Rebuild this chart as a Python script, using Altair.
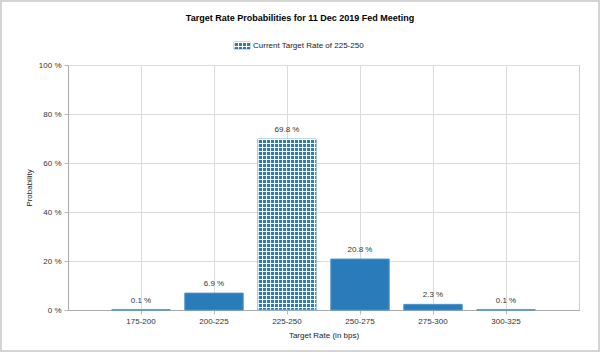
import altair as alt
import pandas as pd

categories = ["175-200", "200-225", "225-250", "250-275", "275-300", "300-325"]
probabilities = [0.1, 6.9, 69.8, 20.8, 2.3, 0.1]
current_rate = "225-250"
title_text = "Target Rate Probabilities for 11 Dec 2019 Fed Meeting"
legend_text = "Current Target Rate of 225-250"

W, H = 511, 245
BLUE = "#2a7bb9"
FONT = "Liberation Sans"

df = pd.DataFrame({"rate": categories, "prob": probabilities})
df["frac"] = df["prob"] / 100.0
df["is_current"] = df["rate"] == current_rate


def stripes(length_px, period, white, dark, light, horizontal):
    stops = []
    pos = 0.0
    while pos < length_px - 1e-9:
        a = pos / length_px
        b = min((pos + white) / length_px, 1.0)
        c = min((pos + period) / length_px, 1.0)
        stops += [(light, a), (light, b), (dark, b), (dark, c)]
        pos += period
    return alt.LinearGradient(
        gradient="linear",
        stops=[alt.GradientStop(color=col, offset=round(o, 5)) for col, o in stops],
        x1=0, y1=0, x2=1 if horizontal else 0, y2=0 if horizontal else 1,
    )


step = W / (6 - 0.2 + 1.2)
bw = step * 0.8
cur_h = H * probabilities[categories.index(current_rate)] / 100.0
grad_v = stripes(bw, 4, 1.2, BLUE, "#ffffff", True)
grad_h = stripes(cur_h, 4, 1.2, "rgba(255,255,255,0)", "#ffffff", False)
sw_w, sw_h = 16, 7
sw_v = stripes(sw_w, 4, 1.2, BLUE, "#ffffff", True)
sw_h_grad = stripes(sw_h, 4, 1.2, "rgba(255,255,255,0)", "#ffffff", False)

x_enc = alt.X(
    "rate:N", sort=categories,
    scale=alt.Scale(paddingInner=0.2, paddingOuter=0.6),
    axis=alt.Axis(title="Target Rate (in bps)", labelAngle=0, grid=True,
                  bandPosition=0.5, tickSize=4, labelPadding=3, titlePadding=6),
)
y_enc = alt.Y(
    "frac:Q", scale=alt.Scale(domain=[0, 1], nice=False),
    axis=alt.Axis(title="Probability", values=[0, 0.2, 0.4, 0.6, 0.8, 1.0],
                  labelExpr="format(datum.value*100, '.0f') + ' %'",
                  tickSize=4, labelPadding=3, titlePadding=5),
)

base = alt.Chart(df).encode(x=x_enc, y=y_enc)

solid = base.transform_filter("!datum.is_current").mark_bar(
    fill=BLUE, stroke="#4f94ca", strokeWidth=1)
pat1 = base.transform_filter("datum.is_current").mark_bar(
    fill=grad_v, stroke="#7fb0d8", strokeWidth=1)
pat2 = base.transform_filter("datum.is_current").mark_bar(fill=grad_h)

labels = base.transform_calculate(
    label="format(datum.prob, '.1f') + ' %'"
).mark_text(baseline="bottom", dy=-5, fontSize=8, font=FONT, color="#333333").encode(
    text="label:N")

one = alt.Chart(pd.DataFrame({"t": [legend_text], "title": [title_text]}))
sw1 = one.mark_rect(fill=sw_v, stroke="#2a6a9e", strokeWidth=0.5).encode(
    x=alt.value(166), x2=alt.value(166 + sw_w), y=alt.value(-23), y2=alt.value(-23 + sw_h))
sw2 = one.mark_rect(fill=sw_h_grad).encode(
    x=alt.value(166), x2=alt.value(166 + sw_w), y=alt.value(-23), y2=alt.value(-23 + sw_h))
leg_txt = one.mark_text(align="left", baseline="middle", fontSize=8, font=FONT,
                        color="#222222").encode(
    x=alt.value(185), y=alt.value(-19.5), text="t:N")
title_mark = one.mark_text(align="center", baseline="middle", fontSize=9, font=FONT,
                           fontWeight="bold", color="#000000").encode(
    x=alt.value(232), y=alt.value(-47.5), text="title:N")
border = one.mark_rect(fill=None, stroke="#d4d4d4", strokeWidth=2).encode(
    x=alt.value(-67), x2=alt.value(531), y=alt.value(-64), y2=alt.value(286))

chart = alt.layer(solid, pat1, pat2, labels, sw1, sw2, leg_txt, title_mark, border).properties(
    width=W, height=H,
    autosize=alt.AutoSizeParams(type="none"),
    padding={"left": 68, "top": 65, "right": 21, "bottom": 42},
    background="#ffffff",
).configure_axis(
    labelFont=FONT, titleFont=FONT, labelFontSize=8, titleFontSize=8,
    labelColor="#333333", titleColor="#222222", titleFontWeight="normal",
    gridColor="#dcdcdc", tickColor="#bbbbbb", domainColor="#aaaaaa",
).configure_view(stroke="#cfcfcf")

chart.save("out.html", embed_options={"renderer": "svg", "actions": False})
